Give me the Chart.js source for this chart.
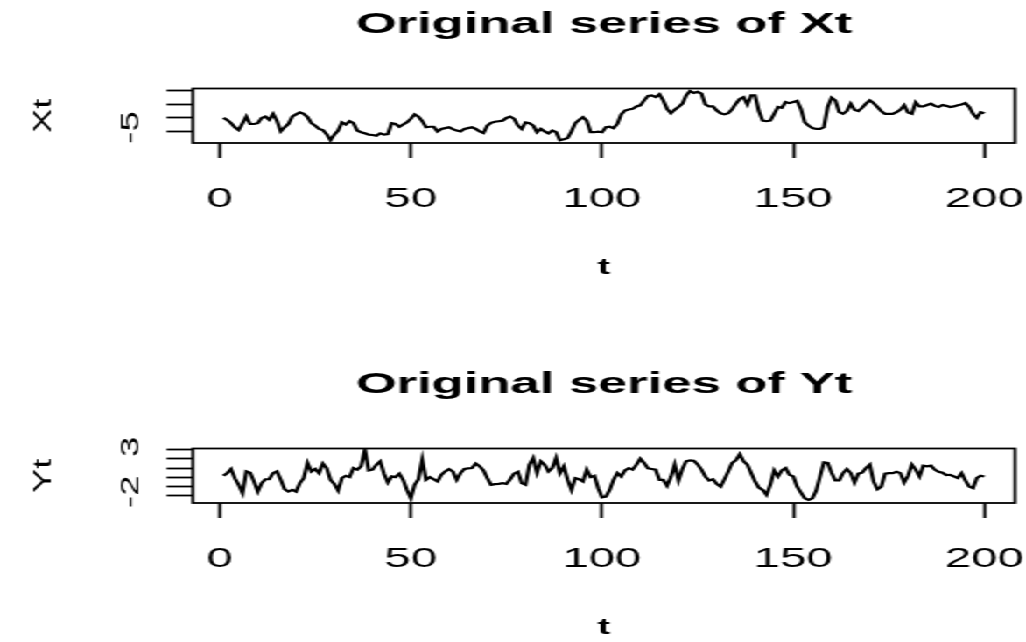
<!DOCTYPE html>
<html>
<head>
<meta charset="utf-8">
<script src="https://cdn.jsdelivr.net/npm/chart.js@4.4.0/dist/chart.umd.min.js"></script>
<style>
  body { margin: 0; background: #fff; overflow: hidden; }
  /* the R device draws wide glyphs, so the whole figure is stretched sideways */
  #wrap { width: 586px; height: 642px; transform: scaleX(1.75085); transform-origin: 0 0; }
  canvas { display: block; }
</style>
</head>
<body>
<div id="wrap">
  <canvas id="xtChart" width="586" height="360"></canvas>
  <canvas id="ytChart" width="586" height="282"></canvas>
</div>
<script>
// Series, t = 1..200
var xtValues = [
  0.0, -0.7, -1.9, -3.4, -4.4, -2.0, 0.5, -2.2, -2.2, -1.9,
  0.0, 0.5, -0.7, 1.5, -1.0, -4.9, -3.4, -2.2, 0.5, 1.3,
  2.0, 1.5, 0.3, -1.9, -2.8, -4.0, -4.4, -5.9, -8.1, -6.1,
  -4.6, -1.6, -2.4, -1.2, -1.9, -4.6, -5.2, -5.6, -6.1, -6.2,
  -6.5, -5.6, -6.1, -5.9, -1.9, -2.2, -3.2, -2.4, -1.6, -0.3,
  1.3, 0.5, -1.2, -3.4, -3.2, -3.2, -4.9, -4.0, -3.7, -3.4,
  -4.1, -4.6, -4.9, -4.0, -3.7, -3.4, -4.0, -4.9, -5.5, -2.8,
  -1.8, -1.4, -1.2, -1.0, 0.0, 0.5, -0.3, -2.8, -4.0, -1.6,
  -1.9, -2.8, -5.2, -4.0, -4.9, -5.6, -4.6, -5.2, -8.1, -7.8,
  -7.3, -4.9, -1.9, -0.7, 0.3, -1.0, -5.2, -5.2, -5.0, -5.2,
  -3.4, -3.2, -3.7, -2.2, 1.3, 2.7, 3.1, 3.3, 4.2, 4.6,
  6.4, 8.0, 8.2, 7.6, 8.6, 6.4, 3.3, 1.7, 3.0, 4.0,
  5.2, 8.2, 9.8, 9.1, 9.5, 8.9, 4.9, 4.2, 4.2, 2.7,
  1.7, 1.3, 1.7, 3.2, 5.2, 6.9, 7.6, 4.9, 8.2, 8.2,
  2.5, -1.0, -1.2, -1.0, 1.5, 4.0, 3.7, 5.8, 5.4, 5.8,
  6.2, 3.3, -1.6, -2.8, -3.7, -4.0, -4.0, -3.4, 4.0, 7.4,
  6.4, 2.1, 1.5, 2.5, 5.2, 3.0, 2.5, 3.7, 5.2, 6.4,
  5.4, 4.0, 2.5, 1.5, 1.5, 1.5, 2.1, 3.0, 4.6, 2.0,
  1.5, 5.7, 4.2, 4.2, 4.7, 5.2, 4.4, 4.0, 4.7, 4.4,
  4.0, 4.2, 4.6, 4.9, 5.4, 4.0, 1.5, 0.0, 2.1, 1.7
];
var ytValues = [
  0.17, 0.46, 0.9, -0.1, -0.8, -1.7, 0.64, 0.5, -0.44, -1.53,
  -0.62, -0.2, -0.2, 0.46, 0.64, -0.26, -1.28, -1.53, -1.35, -1.53,
  -0.62, -0.08, 1.55, 0.64, 0.9, 0.46, 1.48, 1.0, -0.26, -0.7,
  -1.42, -0.08, 0.17, 0.03, 1.0, 0.83, 1.19, 3.0, 0.75, 0.83,
  1.37, 1.73, 0.4, -0.55, 0.1, 0.03, 0.4, -0.26, -1.35, -2.25,
  -0.8, -0.2, 1.91, -0.26, 0.03, -0.2, -0.44, 0.28, 0.64, 0.9,
  0.64, -0.26, 0.46, 0.9, 0.97, 1.0, 1.48, 1.19, 0.75, -0.08,
  -0.8, -0.73, -0.7, -0.62, -0.7, -0.2, 0.4, 0.6, -0.62, -0.8,
  1.37, 2.09, 0.5, 1.73, 1.37, 0.64, 1.0, 2.09, 0.46, 1.19,
  -0.26, -1.35, -0.08, -0.2, -0.44, 0.83, 0.03, 0.17, -1.17, -2.14,
  -2.07, -1.35, -0.26, 0.46, 0.1, 0.75, 1.0, 0.83, 1.37, 2.0,
  1.55, 0.97, 0.9, 0.83, -0.26, -0.26, -0.9, 0.03, 1.37, -0.33,
  0.9, 1.73, 1.84, 1.8, 1.4, 0.83, 0.1, -0.33, -0.2, -0.7,
  -1.0, -0.2, 0.64, 1.55, 1.84, 2.5, 1.73, 1.37, 0.46, -0.44,
  -1.1, -1.35, -1.89, -0.8, 0.75, 0.1, 0.75, 1.0, 0.28, 0.1,
  -1.0, -1.64, -2.25, -2.43, -2.25, -1.42, 0.1, 1.62, 1.55, 0.5,
  -0.33, -0.33, 0.46, 0.9, 0.46, -0.55, 0.4, 0.5, 1.0, 1.37,
  -0.44, -1.28, -1.0, 0.4, 0.46, 0.46, 0.6, 0.46, -0.55, 0.17,
  1.37, 0.83, 0.1, 1.26, 1.19, 1.26, 0.83, 0.6, 0.5, 0.25,
  0.28, 0.1, -0.08, 0.46, -0.33, -1.0, -1.17, -0.08, 0.17, 0.1
];
var tValues = xtValues.map(function (v, i) { return i + 1; });

// Axis ticks (R prints only the labels that do not overlap)
var tTicks = [0, 50, 100, 150, 200];
var xtTicks = [-5, 0, 5, 10];
var xtTickLabels = [-5];
var ytTicks = [-2, -1, 0, 1, 2, 3];
var ytTickLabels = [-2, 3];

var K = 1026 / 586;   // horizontal stretch of the wrapper
var FONT = '"Liberation Sans", Arial, Helvetica, sans-serif';
Chart.defaults.font.family = FONT;
Chart.defaults.color = '#000';

// box round the plot plus the rotated y labels, drawn in screen pixels
var rAxisPlugin = {
    id: 'rAxis',
    afterDraw: function (chart, args, opts) {
        var ctx = chart.ctx, a = chart.chartArea, ys = chart.scales.y;
        ctx.save();
        ctx.lineWidth = 1.8;
        ctx.strokeStyle = '#000';
        ctx.strokeRect(a.left, a.top, a.right - a.left, a.bottom - a.top);
        ctx.scale(1 / K, 1);
        ctx.fillStyle = '#000';
        ctx.font = '27px ' + FONT;
        opts.labels.forEach(function (v) {
            var txt = String(v);
            var w = ctx.measureText(txt).width;
            ctx.save();
            ctx.translate(139, ys.getPixelForValue(v) + w / 2);
            ctx.rotate(-Math.PI / 2);
            ctx.scale(1.35, 1);
            ctx.textAlign = 'left';
            ctx.textBaseline = 'alphabetic';
            ctx.fillText(txt, 0, 0);
            ctx.restore();
        });
        ctx.translate(43, (a.top + a.bottom) / 2);
        ctx.rotate(-Math.PI / 2);
        ctx.scale(1.35, 1);
        ctx.textAlign = 'center';
        ctx.textBaseline = 'middle';
        ctx.fillText(opts.title, 0, 0);
        ctx.restore();
    }
};

function makeChart(id, values, title, yTitle, yMin, yMax, yTicks, yLabels, padBottom) {
    var points = values.map(function (v, i) { return { x: tValues[i], y: v }; });
    return new Chart(document.getElementById(id), {
        type: 'line',
        data: {
            datasets: [{
                data: points,
                borderColor: '#000',
                borderWidth: 2.2,
                pointRadius: 0,
                tension: 0,
                fill: false
            }]
        },
        plugins: [rAxisPlugin],
        options: {
            responsive: false,
            animation: false,
            events: [],
            layout: { padding: { left: 0, right: 6.3, top: 0, bottom: padBottom } },
            plugins: {
                legend: { display: false },
                tooltip: { enabled: false },
                title: {
                    display: true,
                    text: title,
                    fullSize: false,
                    font: { size: 30, weight: 'bold' },
                    padding: { top: 7, bottom: 45.5 }
                },
                rAxis: { labels: yLabels, title: yTitle }
            },
            scales: {
                x: {
                    type: 'linear',
                    min: -6.96,
                    max: 207.96,
                    afterBuildTicks: function (s) { s.ticks = tTicks.map(function (v) { return { value: v }; }); },
                    afterFit: function (s) { s.height = 139; s.paddingLeft = 0; s.paddingRight = 0; },
                    grid: { drawOnChartArea: false, drawTicks: true, tickLength: 15, tickWidth: 1.8, tickColor: '#000' },
                    border: { display: false },
                    ticks: { font: { size: 27 }, padding: 25.5, maxRotation: 0, autoSkip: false },
                    title: { display: true, text: 't', font: { size: 22, weight: 'bold' }, padding: { top: 0, bottom: 0.5 } }
                },
                y: {
                    type: 'linear',
                    min: yMin,
                    max: yMax,
                    afterBuildTicks: function (s) { s.ticks = yTicks.map(function (v) { return { value: v }; }); },
                    afterFit: function (s) { s.width = 110.2; s.paddingTop = 0; s.paddingBottom = 0; },
                    grid: { drawOnChartArea: false, drawTicks: true, tickLength: 15, tickWidth: 1.8, tickColor: '#000' },
                    border: { display: false },
                    ticks: { display: false }
                }
            }
        }
    });
}

makeChart('xtChart', xtValues, 'Original series of Xt', 'Xt', -9.13, 10.73, xtTicks, xtTickLabels, 78);
makeChart('ytChart', ytValues, 'Original series of Yt', 'Yt', -2.76, 3.11, ytTicks, ytTickLabels, 0);
</script>
</body>
</html>
